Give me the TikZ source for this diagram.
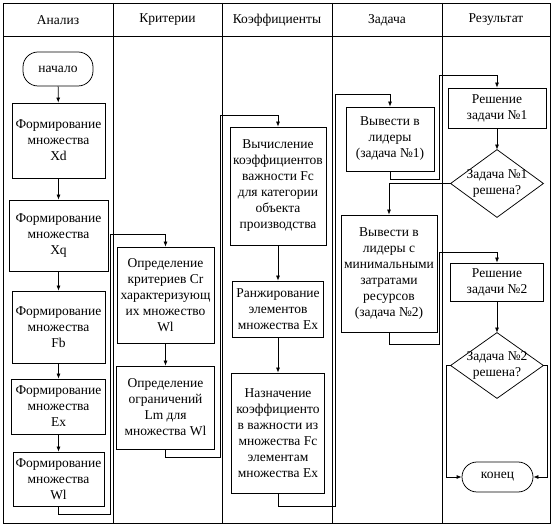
\documentclass[tikz,border=0pt]{standalone}
\usepackage{fontspec}
\setmainfont{Liberation Serif}
\usetikzlibrary{arrows.meta}
\begin{document}
\begin{tikzpicture}[x=1pt,y=-1pt,
  line width=0.75pt,
  txt/.style={font=\fontsize{13.5}{16}\selectfont, align=center, inner sep=0pt},
  box/.style={txt, draw},
  term/.style={txt, draw, rounded corners=15pt},
  dec/.style={txt},
  arr/.style={-{Latex[length=5pt,width=4pt]}},
  frame/.style={line width=0.8pt}]
\useasboundingbox (0,0) rectangle (552,526);
% frame
\draw[frame] (3,3) rectangle (550,523);
\draw[frame] (3,36) -- (550,36);
\foreach \x in {113,222,332,442} \draw[frame] (\x,3) -- (\x,523);
\node[txt] (h1) at (58,20) {Анализ};
\node[txt] (h2) at (167.5,20) {Критерии};
\node[txt] (h3) at (277,20) {Коэффициенты};
\node[txt] (h4) at (387,20) {Задача};
\node[txt] (h5) at (496,20) {Результат};
% Analiz
\node[term, minimum width=70, minimum height=34] (start) at (58,69) {начало};
\node[box, minimum width=93, minimum height=75] (b1) at (58.5,140.5) {Формирование\\множества\\Xd};
\node[box, minimum width=99, minimum height=71] (b2) at (58.5,235.5) {Формирование\\множества\\Xq};
\node[box, minimum width=93, minimum height=72] (b3) at (58.5,327) {Формирование\\множества\\Fb};
\node[box, minimum width=94, minimum height=55] (b4) at (58.5,406.5) {Формирование\\множества\\Ex};
\node[box, minimum width=91, minimum height=54] (b5) at (58.5,479) {Формирование\\множества\\Wl};
% Kriterii
\node[box, minimum width=97, minimum height=96] (c1) at (165.5,295) {Определение\\критериев Cr\\характеризующ\\их множество\\Wl};
\node[box, minimum width=98, minimum height=83] (c2) at (165.5,407.5) {Определение\\ограничений\\Lm для\\множества Wl};
% Koeff
\node[box, minimum width=96, minimum height=118] (k1) at (278,186) {Вычисление\\коэффициентов\\важности Fc\\для категории\\объекта\\производства};
\node[box, minimum width=91, minimum height=56] (k2) at (278,309) {Ранжирование\\элементов\\множества Ex};
\node[box, minimum width=93, minimum height=120] (k3) at (278,433) {Назначение\\коэффициенто\\в важности из\\множества Fc\\элементам\\множества Ex};
% Zadacha
\node[box, minimum width=88, minimum height=64] (z1) at (390,139) {Вывести в\\лидеры\\(задача №1)};
\node[box, minimum width=96, minimum height=117] (z2) at (389,273.5) {Вывести в\\лидеры с\\минимальными\\затратами\\ресурсов\\(задача №2)};
% Rezultat
\node[box, minimum width=98, minimum height=40] (r1) at (497,108) {Решение\\задачи №1};
\node[dec, minimum width=92, minimum height=67] (d1) at (497,183.5) {Задача №1\\решена?};
\draw (d1.north) -- (d1.east) -- (d1.south) -- (d1.west) -- cycle;
\node[box, minimum width=93, minimum height=38] (r2) at (497,282) {Решение\\задачи №2};
\node[dec, minimum width=92, minimum height=65] (d2) at (497,365.5) {Задача №2\\решена?};
\draw (d2.north) -- (d2.east) -- (d2.south) -- (d2.west) -- cycle;
\node[term, minimum width=71, minimum height=30] (end) at (497.5,477) {конец};
% connectors
\draw[arr] (start) -- (b1);
\draw[arr] (b1) -- (b2);
\draw[arr] (b2) -- (b3);
\draw[arr] (b3) -- (b4);
\draw[arr] (b4) -- (b5);
\draw[arr] (b5.south) -- ++(0,8) -| (110,234) -| (c1.north);
\draw[arr] (c1) -- (c2);
\draw[arr] (c2.south) -- ++(0,8) -| (220,115) -| (k1.north);
\draw[arr] (k1) -- (k2);
\draw[arr] (k2) -- (k3);
\draw[arr] (k3.south) -- ++(0,13) -| (335,94) -| (z1.north);
\draw[arr] (z1.south) -- ++(0,8) -| (439,75) -| (r1.north);
\draw[arr] (r1) -- (d1.north);
\draw[arr] (d1.west) -| (z2.north);
\draw[arr] (z2.south) -- ++(0,12) -| (439,252) -| (r2.north);
\draw[arr] (r2) -- (d2.north);
\draw[arr] (d2.west) -| (446,477) -- (end.west);
\draw[arr] (d2.east) -| (547,477) -- (end.east);
\end{tikzpicture}
\end{document}
